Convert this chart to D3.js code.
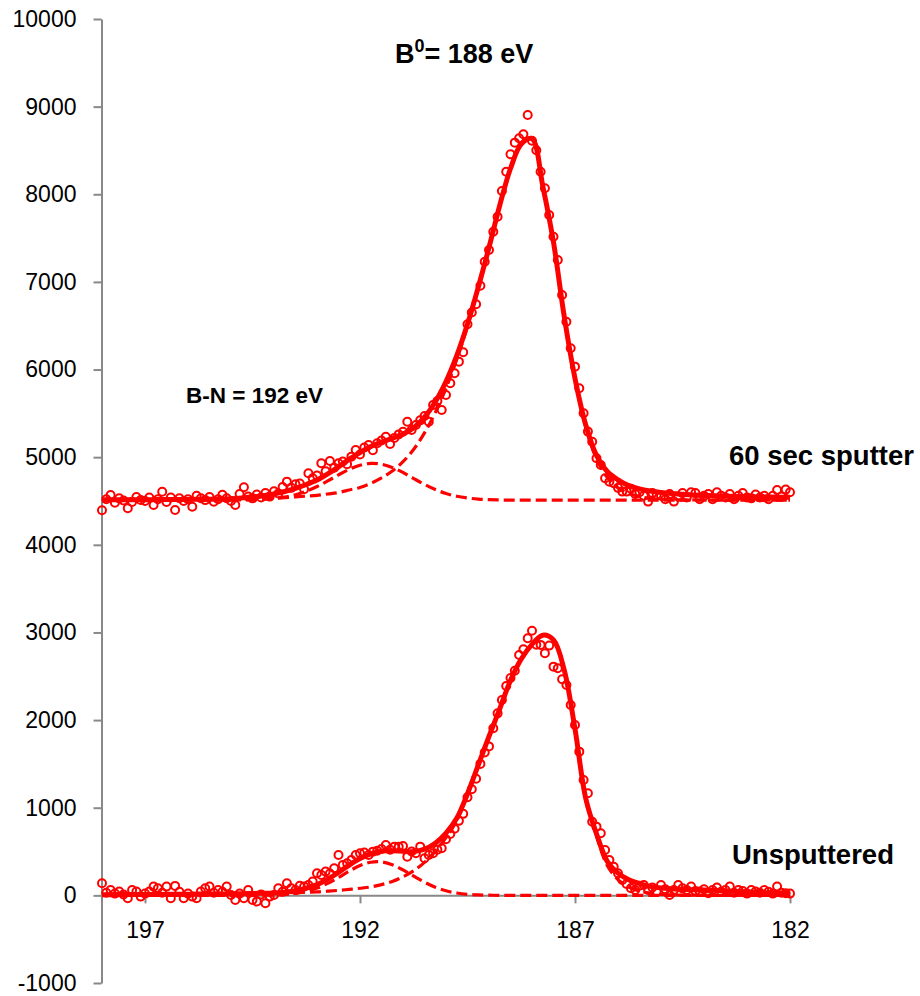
<!DOCTYPE html>
<html>
<head>
<meta charset="utf-8">
<script src="https://cdn.jsdelivr.net/npm/d3@7"></script>
<style>
  html, body { margin: 0; padding: 0; background: #ffffff; }
  svg { display: block; }
  text { font-family: "Liberation Sans", Arial, sans-serif; fill: #000; }
</style>
</head>
<body>
<svg id="chart" width="920" height="996"></svg>
<script>
// Binding energy (eV) of the fitted envelopes and components
const energyFit = [198,
  197.75, 197.5, 197.25, 197, 196.75, 196.5, 196.25, 196,
  195.75, 195.5, 195.25, 195, 194.75, 194.5, 194.25, 194,
  193.75, 193.5, 193.25, 193, 192.75, 192.5, 192.25, 192,
  191.75, 191.5, 191.25, 191, 190.75, 190.5, 190.25, 190,
  189.75, 189.5, 189.25, 189, 188.75, 188.5, 188.25, 188,
  187.75, 187.5, 187.25, 187, 186.75, 186.5, 186.25, 186,
  185.75, 185.5, 185.25, 185, 184.75, 184.5, 184.25, 184,
  183.75, 183.5, 183.25, 183, 182.75, 182.5, 182.25, 182];

// Binding energy (eV) of the measured points
const energyScan = [
  198.0, 197.9, 197.8, 197.7, 197.6, 197.5, 197.4, 197.3, 197.2, 197.1,
  197.0, 196.9, 196.8, 196.7, 196.6, 196.5, 196.4, 196.3, 196.2, 196.1,
  196.0, 195.9, 195.8, 195.7, 195.6, 195.5, 195.4, 195.3, 195.2, 195.1,
  195.0, 194.9, 194.8, 194.7, 194.6, 194.5, 194.4, 194.3, 194.2, 194.1,
  194.0, 193.9, 193.8, 193.7, 193.6, 193.5, 193.4, 193.3, 193.2, 193.1,
  193.0, 192.9, 192.8, 192.7, 192.6, 192.5, 192.4, 192.3, 192.2, 192.1,
  192.0, 191.9, 191.8, 191.7, 191.6, 191.5, 191.4, 191.3, 191.2, 191.1,
  191.0, 190.9, 190.8, 190.7, 190.6, 190.5, 190.4, 190.3, 190.2, 190.1,
  190.0, 189.9, 189.8, 189.7, 189.6, 189.5, 189.4, 189.3, 189.2, 189.1,
  189.0, 188.9, 188.8, 188.7, 188.6, 188.5, 188.4, 188.3, 188.2, 188.1,
  188.0, 187.9, 187.8, 187.7, 187.6, 187.5, 187.4, 187.3, 187.2, 187.1,
  187.0, 186.9, 186.8, 186.7, 186.6, 186.5, 186.4, 186.3, 186.2, 186.1,
  186.0, 185.9, 185.8, 185.7, 185.6, 185.5, 185.4, 185.3, 185.2, 185.1,
  185.0, 184.9, 184.8, 184.7, 184.6, 184.5, 184.4, 184.3, 184.2, 184.1,
  184.0, 183.9, 183.8, 183.7, 183.6, 183.5, 183.4, 183.3, 183.2, 183.1,
  183.0, 182.9, 182.8, 182.7, 182.6, 182.5, 182.4, 182.3, 182.2, 182.1,
  182.0];

// 60 sec sputter: measured counts
const sputterCounts = [
  4395, 4520, 4568, 4480, 4530, 4505, 4417, 4490, 4545, 4512,
  4500, 4540, 4455, 4520, 4606, 4490, 4540, 4397, 4531, 4500,
  4520, 4435, 4560, 4531, 4510, 4545, 4492, 4520, 4570, 4531,
  4500, 4455, 4580, 4657, 4550, 4530, 4575, 4540, 4590, 4550,
  4610, 4585, 4660, 4721, 4650, 4690, 4700, 4634, 4817, 4760,
  4790, 4931, 4840, 4957, 4880, 4931, 4950, 4920, 5006, 5082,
  5030, 5110, 5139, 5080, 5158, 5190, 5234, 5150, 5220, 5260,
  5291, 5405, 5310, 5367, 5420, 5470, 5405, 5596, 5640, 5539,
  5710, 5843, 5957, 6090, 6197, 6516, 6650, 6745, 6957, 7231,
  7364, 7573, 7744, 8037, 8258, 8456, 8589, 8640, 8684, 8905,
  8610, 8502, 8258, 8068, 7763, 7516, 7250, 6851, 6546, 6243,
  6033, 5786, 5501, 5292, 5177, 4987, 4911, 4760, 4720, 4702,
  4650, 4607, 4607, 4640, 4580, 4600, 4560, 4493, 4590, 4570,
  4560, 4520, 4580, 4493, 4550, 4590, 4540, 4600, 4590, 4520,
  4560, 4580, 4520, 4600, 4560, 4540, 4580, 4520, 4560, 4590,
  4540, 4530, 4575, 4540, 4560, 4520, 4560, 4626, 4550, 4630,
  4600];

// 60 sec sputter: fitted envelope and its two components
const sputterFit = [4514,
  4514, 4514, 4515, 4515, 4516, 4516, 4518, 4518,
  4520, 4521, 4523, 4527, 4535, 4545, 4560, 4580,
  4608, 4643, 4688, 4740, 4810, 4890, 4977, 5053,
  5121, 5173, 5215, 5264, 5336, 5456, 5630, 5863,
  6158, 6519, 6939, 7393, 7874, 8294, 8572, 8634,
  8095, 7453, 6603, 5899, 5368, 5020, 4837, 4742,
  4676, 4638, 4614, 4597, 4585, 4576, 4568, 4564,
  4560, 4556, 4552, 4551, 4547, 4547, 4544, 4544];

const sputterBoron = [4514,
  4514, 4514, 4515, 4515, 4516, 4516, 4518, 4518,
  4520, 4520, 4522, 4522, 4527, 4527, 4531, 4535,
  4539, 4547, 4556, 4564, 4580, 4597, 4626, 4655,
  4701, 4763, 4842, 4949, 5090, 5277, 5509, 5787,
  6114, 6495, 6927, 7387, 7872, 8294, 8572, 8634,
  8095, 7453, 6603, 5899, 5350, 4980, 4770, 4650,
  4585, 4550, 4530, 4520, 4515, 4513, 4512, 4511,
  4510, 4510, 4510, 4510, 4510, 4510, 4510, 4510];

const sputterNitride = [4510,
  4510, 4510, 4510, 4510, 4510, 4510, 4510, 4510,
  4510, 4510, 4510, 4511, 4512, 4514, 4519, 4528,
  4545, 4572, 4612, 4665, 4729, 4798, 4861, 4908,
  4930, 4920, 4883, 4825, 4756, 4689, 4631, 4586,
  4554, 4534, 4522, 4516, 4512, 4510, 4510, 4510,
  4510, 4510, 4510, 4510, 4510, 4510, 4510, 4510,
  4510, 4510, 4510, 4510, 4510, 4510, 4510, 4510,
  4510, 4510, 4510, 4510, 4510, 4510, 4510, 4510];

// Unsputtered: measured counts
const rawCounts = [
  138, 30, 62, 20, 43, 10, -33, 62, 43, -14,
  20, 43, 100, 81, 30, 100, -33, 108, 40, -33,
  20, -14, -33, 43, 81, 100, 30, 62, 40, 100,
  5, -52, 20, -33, 62, -52, -71, 10, -90, -14,
  5, 81, 40, 138, 81, 60, 110, 100, 119, 157,
  252, 233, 271, 250, 309, 461, 347, 366, 404, 461,
  480, 488, 461, 499, 510, 530, 575, 520, 556, 556,
  563, 442, 500, 480, 556, 423, 460, 480, 520, 537,
  640, 700, 760, 850, 930, 1120, 1210, 1330, 1500, 1630,
  1700, 1906, 2077, 2229, 2389, 2480, 2564, 2743, 2807, 2933,
  3020, 2860, 2858, 2763, 2850, 2610, 2591, 2466, 2400, 2173,
  1944, 1640, 1317, 1165, 841, 784, 708, 518, 404, 327,
  252, 176, 130, 81, 62, 110, 119, 62, 90, 40,
  119, 70, 5, 60, 119, 80, 62, 100, 50, 43,
  70, 24, 62, 90, 40, 62, 100, 30, 60, 50,
  20, 62, 45, 30, 62, 40, 20, 100, 30, 24,
  20];

// Unsputtered: fitted envelope and its two components
const rawFit = [8,
  8, 9, 9, 10, 10, 12, 12, 12,
  15, 15, 15, 18, 18, 22, 24, 28,
  37, 53, 82, 122, 185, 261, 346, 421,
  474, 505, 508, 503, 500, 527, 595, 710,
  879, 1160, 1485, 1814, 2129, 2452, 2697, 2864,
  2969, 2915, 2571, 1899, 1106, 703, 389, 254,
  179, 135, 102, 84, 75, 69, 63, 60,
  57, 51, 45, 39, 36, 30, 27, 24];

const rawBoron = [8,
  8, 9, 9, 10, 10, 12, 12, 12,
  15, 15, 15, 18, 18, 21, 22, 24,
  27, 30, 36, 39, 48, 57, 69, 81,
  96, 123, 158, 212, 281, 377, 502, 658,
  852, 1148, 1480, 1812, 2129, 2452, 2697, 2864,
  2969, 2915, 2571, 1899, 1106, 680, 340, 180,
  95, 50, 25, 12, 6, 3, 2, 1,
  0, 0, 0, 0, 0, 0, 0, 0];

const rawNitride = [0,
  0, 0, 0, 0, 0, 0, 0, 0,
  0, 0, 0, 0, 0, 1, 2, 4,
  10, 23, 46, 83, 137, 204, 277, 340,
  378, 382, 350, 291, 219, 150, 93, 52,
  27, 12, 5, 2, 0, 0, 0, 0,
  0, 0, 0, 0, 0, 0, 0, 0,
  0, 0, 0, 0, 0, 0, 0, 0,
  0, 0, 0, 0, 0, 0, 0, 0];

// Axis ticks
const xTicks = [197, 192, 187, 182];
const yTicks = [-1000, 0, 1000, 2000, 3000, 4000, 5000, 6000, 7000, 8000, 9000, 10000];

// ---- drawing ----
const svg = d3.select("#chart");
const red = "#ff0000";
const axisGrey = "#898989";

const x = d3.scaleLinear().domain([198, 182]).range([102, 790]);
const y = d3.scaleLinear().domain([-1000, 10000]).range([983, 19]);

// y axis
const yAxis = svg.append("g")
  .attr("transform", "translate(101.5,0)")
  .call(d3.axisLeft(y).tickValues(yTicks).tickSize(8).tickSizeOuter(0)
    .tickPadding(17).tickFormat(d => String(d)));

// x axis sits on the zero line
const xAxis = svg.append("g")
  .attr("transform", `translate(0,${y(0)})`)
  .call(d3.axisBottom(x).tickValues(xTicks).tickSize(8).tickSizeOuter(0)
    .tickPadding(18).tickFormat(d => String(d)));

[yAxis, xAxis].forEach(g => {
  g.select(".domain").attr("stroke", axisGrey).attr("stroke-width", 2);
  g.selectAll(".tick line").attr("stroke", axisGrey).attr("stroke-width", 2);
  g.selectAll(".tick text")
    .attr("font-family", "'Liberation Sans', Arial, sans-serif")
    .attr("font-size", 23).attr("fill", "#000");
});

const line = ys => d3.line()
  .x((d, i) => x(energyFit[i]))
  .y(d => y(d))
  .curve(d3.curveCatmullRom.alpha(0.5))(ys);

// fitted components (dashed)
[sputterBoron, sputterNitride, rawBoron, rawNitride].forEach(ys => {
  svg.append("path")
    .attr("d", line(ys))
    .attr("fill", "none")
    .attr("stroke", red)
    .attr("stroke-width", 3.2)
    .attr("stroke-dasharray", "11,5");
});

// fitted envelopes
[sputterFit, rawFit].forEach(ys => {
  svg.append("path")
    .attr("d", line(ys))
    .attr("fill", "none")
    .attr("stroke", red)
    .attr("stroke-width", 5)
    .attr("stroke-linejoin", "round");
});

// measured points
[sputterCounts, rawCounts].forEach(vals => {
  svg.append("g").selectAll("circle")
    .data(vals)
    .join("circle")
    .attr("cx", (d, i) => x(energyScan[i]))
    .attr("cy", d => y(d))
    .attr("r", 4)
    .attr("fill", "none")
    .attr("stroke", red)
    .attr("stroke-width", 2);
});

// annotations
const title = svg.append("text")
  .attr("x", 395).attr("y", 63)
  .attr("font-size", 27).attr("font-weight", "bold");
title.append("tspan").text("B");
title.append("tspan").attr("dy", -11).attr("font-size", 18).text("0");
title.append("tspan").attr("dy", 11).text("= 188 eV");

svg.append("text")
  .attr("x", 186).attr("y", 403)
  .attr("font-size", 22.5).attr("font-weight", "bold")
  .text("B-N = 192 eV");

svg.append("text")
  .attr("x", 729).attr("y", 465)
  .attr("font-size", 27.5).attr("font-weight", "bold")
  .text("60 sec sputter");

svg.append("text")
  .attr("x", 732).attr("y", 864)
  .attr("font-size", 27.5).attr("font-weight", "bold")
  .text("Unsputtered");
</script>
</body>
</html>
